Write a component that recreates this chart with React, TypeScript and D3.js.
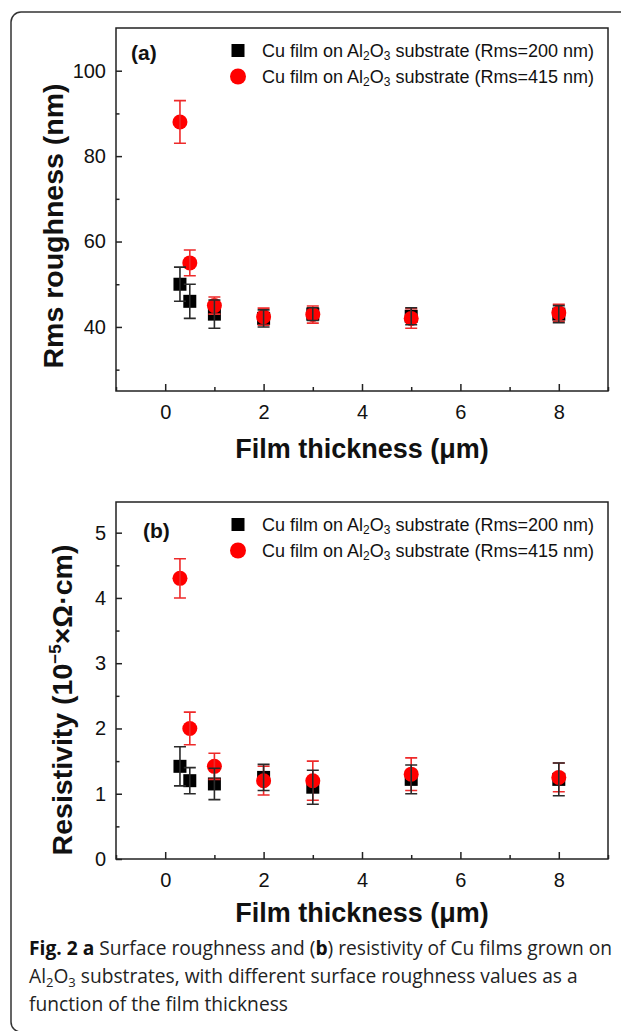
import React, { useRef, useEffect } from 'react'
import * as d3 from 'd3'

// film thickness (um)
const thickness = [0.3, 0.5, 1, 2, 3, 5, 8]

// (a) Rms roughness (nm)
const rough200 = [50, 46, 43, 42, 43, 42.5, 43]
const rough200Err = [4, 4, 3.3, 2, 1.5, 2, 2]
const rough415 = [88, 55, 45, 42.4, 42.9, 42, 43.3]
const rough415Err = [5, 3, 2, 2, 2, 2.3, 2]

// (b) resistivity (10^-5 ohm cm)
const res200 = [1.42, 1.2, 1.15, 1.25, 1.1, 1.22, 1.22]
const res200Err = [0.3, 0.2, 0.24, 0.2, 0.26, 0.22, 0.25]
const res415 = [4.3, 2.0, 1.42, 1.2, 1.2, 1.3, 1.25]
const res415Err = [0.3, 0.25, 0.2, 0.22, 0.3, 0.25, 0.22]

const xTicks = [0, 2, 4, 6, 8]
const xMinor = [-1, 1, 3, 5, 7, 9]
const roughTicks = [40, 60, 80, 100]
const roughMinor = [30, 50, 70, 90]
const resTicks = [0, 1, 2, 3, 4, 5]
const resMinor = [0.5, 1.5, 2.5, 3.5, 4.5]

const legendNames = ['200', '415']

const W = 621
const H = 1031
const X0 = 116
const X1 = 608
const FONT = 'Liberation Sans, Arial, sans-serif'

const App = () => {
  const ref = useRef(null)

  useEffect(() => {
    const svg = d3.select(ref.current)
    svg.selectAll('*').remove()

    // outer frame of the figure
    svg.append('rect')
      .attr('x', 11).attr('y', 12)
      .attr('width', 640).attr('height', 1020)
      .attr('rx', 10)
      .style('fill', 'none')
      .style('stroke', '#333')
      .style('stroke-width', 1.5)

    const x = d3.scaleLinear().domain([-1, 9]).range([X0, X1])

    const panels = [
      {
        top: 28, bottom: 391, domain: [25, 110], ticks: roughTicks, minor: roughMinor,
        black: rough200, blackErr: rough200Err, red: rough415, redErr: rough415Err,
        tag: '(a)', tagX: 131, tagY: 60, titleX: 63, titleY: 226,
        tickY: 417, xTitleY: 458
      },
      {
        top: 502, bottom: 859, domain: [0, 5.47], ticks: resTicks, minor: resMinor,
        black: res200, blackErr: res200Err, red: res415, redErr: res415Err,
        tag: '(b)', tagX: 143, tagY: 538, titleX: 72, titleY: 700,
        tickY: 881, xTitleY: 922
      }
    ]

    panels.forEach((p, i) => {
      const y = d3.scaleLinear().domain(p.domain).range([p.bottom, p.top])
      const g = svg.append('g')

      // axes with inward ticks
      g.append('g')
        .attr('class', 'ax')
        .attr('transform', `translate(${X0},0)`)
        .call(d3.axisLeft(y).tickValues(p.ticks).tickSize(-6).tickPadding(10).tickFormat(d3.format('d')))
      g.append('g')
        .attr('class', 'ax')
        .attr('transform', `translate(${X0},0)`)
        .call(d3.axisLeft(y).tickValues(p.minor).tickSize(-3.5).tickFormat(() => ''))
      g.append('g')
        .attr('class', 'ax')
        .attr('transform', `translate(0,${p.bottom})`)
        .call(d3.axisBottom(x).tickValues(xTicks).tickSize(-7).tickPadding(14).tickFormat(d3.format('d')))
      g.append('g')
        .attr('class', 'ax')
        .attr('transform', `translate(0,${p.bottom})`)
        .call(d3.axisBottom(x).tickValues(xMinor).tickSize(-4).tickFormat(() => ''))

      g.selectAll('.ax .domain').remove()
      g.selectAll('.ax line').style('stroke', '#222').style('stroke-width', 1.5)
      g.selectAll('.ax text')
        .style('font-family', FONT)
        .style('font-size', '20px')
        .style('fill', '#111')

      g.append('rect')
        .attr('x', X0).attr('y', p.top)
        .attr('width', X1 - X0).attr('height', p.bottom - p.top)
        .style('fill', 'none')
        .style('stroke', '#222')
        .style('stroke-width', 1.5)

      // markers
      g.selectAll('rect.sq')
        .data(thickness)
        .enter()
        .append('rect')
          .attr('class', 'sq')
          .attr('x', (d) => x(d) - 6.5)
          .attr('y', (d, j) => y(p.black[j]) - 6.5)
          .attr('width', 13).attr('height', 13)
          .style('fill', '#000')

      g.selectAll('circle.dot')
        .data(thickness)
        .enter()
        .append('circle')
          .attr('class', 'dot')
          .attr('cx', (d) => x(d))
          .attr('cy', (d, j) => y(p.red[j]))
          .attr('r', 7.5)
          .style('fill', '#ff0000')

      // error bars
      const bars = (vals, errs, color) => {
        thickness.forEach((t, j) => {
          const cx = x(t)
          const y1 = y(vals[j] + errs[j])
          const y2 = y(vals[j] - errs[j])
          const path = `M${cx},${y1}V${y2}M${cx - 6},${y1}H${cx + 6}M${cx - 6},${y2}H${cx + 6}`
          g.append('path')
            .attr('d', path)
            .style('fill', 'none')
            .style('stroke', color)
            .style('stroke-width', 1.6)
        })
      }
      bars(p.red, p.redErr, '#ee2a2a')
      bars(p.black, p.blackErr, '#2a2a2a')

      // panel tag
      g.append('text')
        .attr('x', p.tagX).attr('y', p.tagY)
        .style('font-family', FONT)
        .style('font-size', '21px')
        .style('font-weight', 700)
        .style('fill', '#111')
        .text(p.tag)

      // legend
      legendNames.forEach((name, k) => {
        const cy = p.top + (k === 0 ? 22.5 : 48.5)
        if (k === 0) {
          g.append('rect')
            .attr('x', 238 - 6.5).attr('y', cy - 6.5)
            .attr('width', 13).attr('height', 13)
            .style('fill', '#000')
        } else {
          g.append('circle')
            .attr('cx', 238).attr('cy', cy).attr('r', 8)
            .style('fill', '#ff0000')
        }
        const t = g.append('text')
          .attr('x', 262).attr('y', cy + 6.5)
          .style('font-family', FONT)
          .style('font-size', '18px')
          .style('fill', '#111')
        t.append('tspan').text('Cu film on Al')
        t.append('tspan').attr('dy', 3).style('font-size', '12px').text('2')
        t.append('tspan').attr('dy', -3).text('O')
        t.append('tspan').attr('dy', 3).style('font-size', '12px').text('3')
        t.append('tspan').attr('dy', -3).text(` substrate (Rms=${name} nm)`)
      })

      // x axis title
      g.append('text')
        .attr('x', (X0 + X1) / 2).attr('y', p.xTitleY)
        .attr('text-anchor', 'middle')
        .style('font-family', FONT)
        .style('font-size', '27px')
        .style('font-weight', 700)
        .style('fill', '#111')
        .text('Film thickness (\u03bcm)')

      // y axis title
      const yt = g.append('text')
        .attr('transform', `translate(${p.titleX},${p.titleY}) rotate(-90)`)
        .attr('text-anchor', 'middle')
        .style('font-family', FONT)
        .style('font-size', '28.5px')
        .style('font-weight', 700)
        .style('fill', '#111')
      if (i === 0) {
        yt.text('Rms roughness (nm)')
      } else {
        yt.append('tspan').text('Resistivity (10')
        yt.append('tspan').attr('dy', -11).style('font-size', '17px').text('\u22125')
        yt.append('tspan').attr('dy', 11).text('\u00d7\u03a9\u00b7cm)')
      }
    })

    // caption
    const cap = svg.append('g')
      .style('font-family', 'Open Sans, sans-serif')
      .style('font-size', '19.2px')
      .style('fill', '#222')
    const l1 = cap.append('text').attr('x', 29).attr('y', 955)
    l1.append('tspan').style('font-weight', 700).style('fill', '#111').text('Fig. 2 a')
    l1.append('tspan').text(' Surface roughness and (')
    l1.append('tspan').style('font-weight', 700).style('fill', '#111').text('b')
    l1.append('tspan').text(') resistivity of Cu films grown on')
    const l2 = cap.append('text').attr('x', 29).attr('y', 983)
    l2.append('tspan').text('Al')
    l2.append('tspan').attr('dy', 4).style('font-size', '13px').text('2')
    l2.append('tspan').attr('dy', -4).text('O')
    l2.append('tspan').attr('dy', 4).style('font-size', '13px').text('3')
    l2.append('tspan').attr('dy', -4).text(' substrates, with different surface roughness values as a')
    cap.append('text').attr('x', 29).attr('y', 1011).text('function of the film thickness')
  }, [])

  return (
    <svg
      ref={ref}
      width={W}
      height={H}
      style={{ position: 'absolute', left: 0, top: 0, background: '#fff' }}
    />
  )
}

export default App
